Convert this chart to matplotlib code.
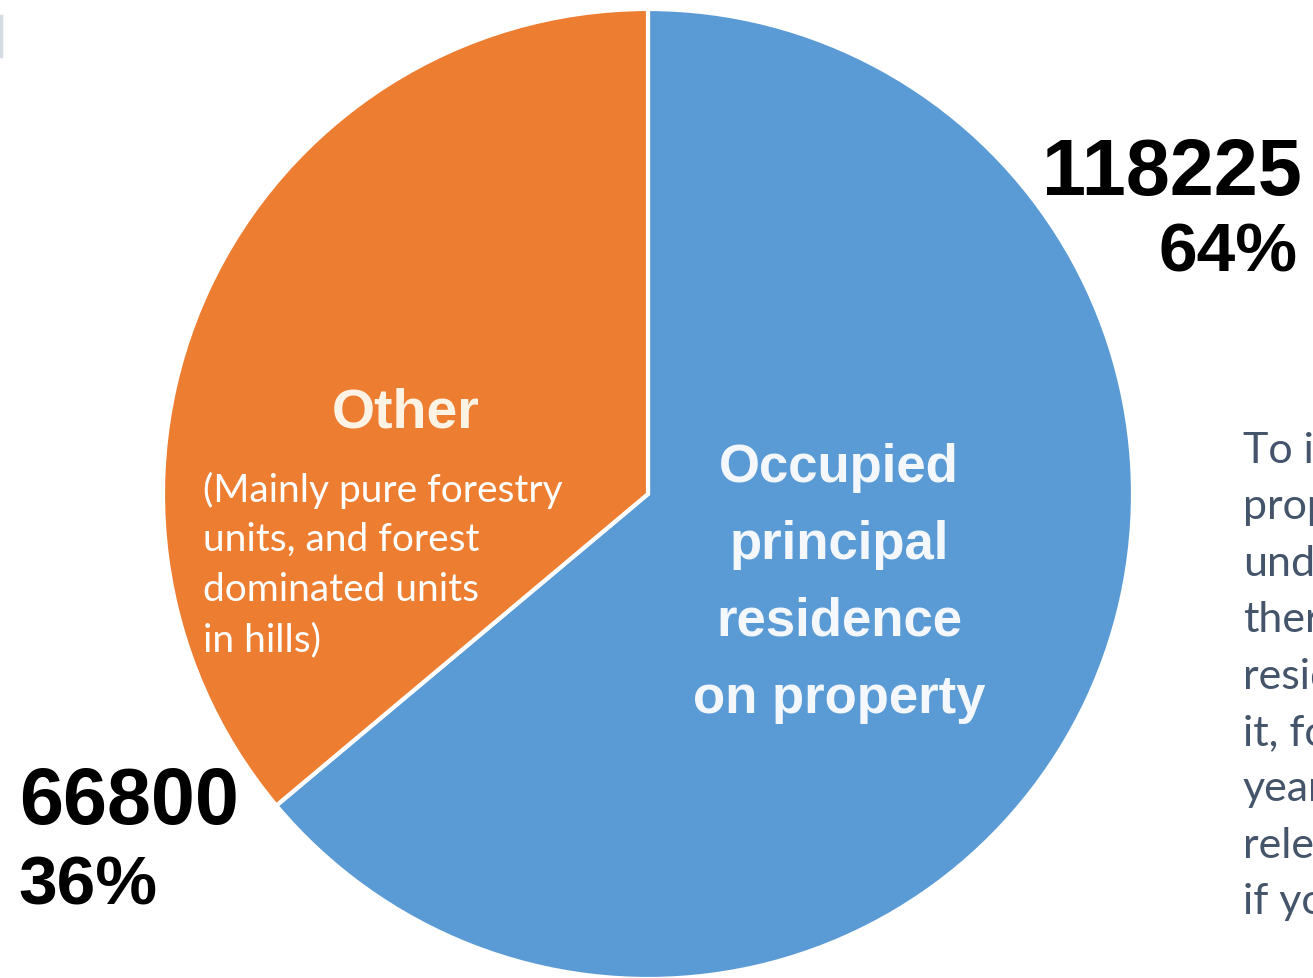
import matplotlib
matplotlib.use("Agg")
import matplotlib.pyplot as plt

# data
labels = ["Occupied principal residence on property", "Other"]
counts = [118225, 66800]
shares = ["64%", "36%"]
colors = ["#5b9bd5", "#ed7d31"]

side_note = ["To incorporate", "property", "under", "there", "residence",
             "it, for", "years", "relevant", "if you"]

W, H = 1313, 979
fig = plt.figure(figsize=(W / 100, H / 100), dpi=100)
ax = fig.add_axes([0, 0, 1, 1])

ax.pie(counts, colors=colors, startangle=90, counterclock=False,
       center=(648, H - 495), radius=485,
       wedgeprops=dict(edgecolor="white", linewidth=3))
ax.set_xlim(0, W)
ax.set_ylim(0, H)
ax.set_aspect("equal")
ax.axis("off")

bold = dict(family="Liberation Sans", fontweight="bold")

# value labels
ax.text(1172, H - 175, str(counts[0]), ha="center", va="center",
        fontsize=57, color="black", **bold)
ax.text(1228, H - 253, shares[0], ha="center", va="center",
        fontsize=50, color="black", **bold)
ax.text(129, H - 804, str(counts[1]), ha="center", va="center",
        fontsize=57, color="black", **bold)
ax.text(88, H - 887, shares[1], ha="center", va="center",
        fontsize=50, color="black", **bold)

# slice titles
ax.text(406, H - 414, "Other", ha="center", va="center",
        fontsize=40, color="#fdf3e4", **bold)
for i, line in enumerate(["Occupied", "principal", "residence", "on property"]):
    ax.text(839, H - (468 + 77 * i), line, ha="center", va="center",
            fontsize=38, color="#f4f8fc", **bold)

other_note = ["(Mainly pure forestry", "units, and forest",
              "dominated units", "in hills)"]
for i, line in enumerate(other_note):
    ax.text(203, H - (490 + 50 * i), line, ha="left", va="center",
            fontsize=28, color="white", family="Lato")

# side text on the right, cut by the figure edge as in the source
for i, line in enumerate(side_note):
    ax.text(1243, H - (451 + 56.4 * i), line, ha="left", va="center",
            fontsize=31, color="#44546a", family="Lato", clip_on=False)

# small grey mark at top-left
ax.plot([1, 1], [H - 17, H - 57], color="#d5dbe2", linewidth=2.5)

fig.savefig("out.png", dpi=100)
